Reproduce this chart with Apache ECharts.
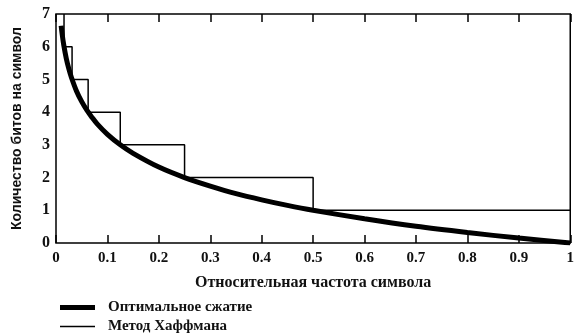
<!DOCTYPE html>
<html>
<head>
<meta charset="utf-8">
<script src="https://cdn.jsdelivr.net/npm/echarts@6/dist/echarts.min.js"></script>
<style>
  html, body { margin: 0; padding: 0; background: #fff; }
  #chart { width: 577px; height: 333px; }
</style>
</head>
<body>
<div id="chart"></div>
<script>
// оптимальное сжатие
const optX = [0.01, 0.012, 0.015, 0.02, 0.025, 0.03, 0.04, 0.05, 0.06, 0.07, 0.08, 0.1, 0.125, 0.15, 0.2, 0.25, 0.3, 0.35, 0.4, 0.45, 0.5, 0.6, 0.7, 0.8, 0.9, 1.0]
const optY = [6.64, 6.38, 6.06, 5.64, 5.32, 5.06, 4.64, 4.32, 4.06, 3.84, 3.64, 3.32, 3.0, 2.74, 2.32, 2.0, 1.74, 1.51, 1.32, 1.15, 1.0, 0.74, 0.51, 0.32, 0.15, 0.0]
// метод Хаффмана (staircase)
const hufX = [1.0, 0.5, 0.5, 0.25, 0.25, 0.125, 0.125, 0.0625, 0.0625, 0.03125, 0.03125, 0.0156, 0.0156]
const hufY = [1, 1, 2, 2, 3, 3, 4, 4, 5, 5, 6, 6, 7]
const xTicks = ['0', '0.1', '0.2', '0.3', '0.4', '0.5', '0.6', '0.7', '0.8', '0.9', '1']
const seriesNames = ['Оптимальное сжатие', 'Метод Хаффмана']

const zip = (a, b) => a.map((v, i) => [v, b[i]])

const chart = echarts.init(document.getElementById('chart'))
const serif = '"Liberation Serif", "DejaVu Serif", serif'
const legendText = { fontFamily: serif, fontSize: 15, fontWeight: 'bold', color: '#111', padding: [0, 0, 0, 8] }

chart.setOption({
  animation: false,
  grid: {
    left: 56, right: 5, top: 14, bottom: 90,
    show: true, borderColor: '#000', borderWidth: 1.5, backgroundColor: 'transparent'
  },
  legend: [{
    data: [seriesNames[0]],
    left: 55, top: 295,
    icon: 'rect', itemWidth: 35, itemHeight: 5,
    textStyle: legendText
  }, {
    data: [seriesNames[1]],
    left: 55, top: 314,
    icon: 'rect', itemWidth: 35, itemHeight: 1.5,
    textStyle: legendText
  }],
  xAxis: [{
    type: 'value', min: 0, max: 1, interval: 0.1,
    name: 'Относительная частота символа',
    nameLocation: 'middle', nameGap: 32,
    nameTextStyle: { fontFamily: serif, fontSize: 16, fontWeight: 'bold', color: '#111' },
    axisLine: { show: false },
    axisTick: { show: true, inside: true, length: 8, lineStyle: { color: '#000', width: 1.5 } },
    axisLabel: {
      fontFamily: serif, fontSize: 15, fontWeight: 'bold', color: '#111', margin: 8,
      formatter: (v) => xTicks[Math.round(v * 10)]
    },
    splitLine: { show: false }
  }, {
    type: 'value', position: 'top', min: 0, max: 1, interval: 0.1,
    axisLine: { show: false },
    axisTick: { show: true, inside: true, length: 8, lineStyle: { color: '#000', width: 1.5 } },
    axisLabel: { show: false },
    splitLine: { show: false }
  }],
  yAxis: {
    type: 'value', min: 0, max: 7, interval: 1,
    name: 'Количество битов на символ',
    nameLocation: 'middle', nameGap: 32, nameRotate: 90,
    nameTextStyle: { fontFamily: '"Liberation Sans", Arial, sans-serif', fontSize: 14, fontWeight: 'bold', color: '#111' },
    axisLine: { show: false },
    axisTick: { show: false },
    axisLabel: { fontFamily: serif, fontSize: 16, fontWeight: 'bold', color: '#111', margin: 6 },
    splitLine: { show: false }
  },
  series: [{
    name: seriesNames[0],
    type: 'line',
    data: zip(optX, optY),
    smooth: 0.3,
    symbol: 'none',
    lineStyle: { color: '#000', width: 5 },
    itemStyle: { color: '#000' },
    z: 3
  }, {
    name: seriesNames[1],
    type: 'line',
    data: zip(hufX, hufY),
    symbol: 'none',
    lineStyle: { color: '#000', width: 1.5 },
    itemStyle: { color: '#000' },
    z: 2
  }]
})
</script>
</body>
</html>
